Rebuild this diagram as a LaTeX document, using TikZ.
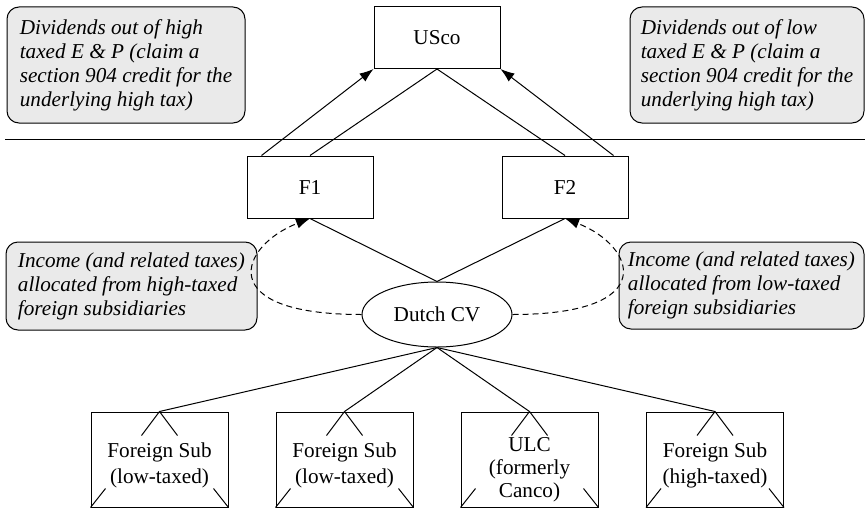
\documentclass[tikz,border=0pt]{standalone}
\usepackage{fontspec}
\setmainfont{Liberation Serif}
\usepackage{xcolor}
\definecolor{notefill}{HTML}{EAEAEA}
\usetikzlibrary{arrows.meta,shapes.geometric}
\tikzset{
  entity/.style  = {draw,line width=0.5pt,minimum width=63pt,minimum height=31pt,
                     inner sep=0pt},
  note/.style    = {draw,line width=0.5pt,rounded corners=6pt,fill=notefill,
                     align=left,inner sep=0pt,
                     font=\itshape\fontsize{10.6}{12}\selectfont},
  subsid/.style  = {draw,line width=0.5pt,minimum width=68.5pt,minimum height=47.5pt,
                     inner sep=0pt},
  subtext/.style = {align=center,inner sep=0pt,font=\fontsize{10.6}{13}\selectfont},
  cvnode/.style  = {draw,ellipse,line width=0.5pt,minimum width=75pt,
                     minimum height=32.5pt,inner sep=0pt},
  own/.style     = {line width=0.5pt},
  divarr/.style  = {own,-{Latex[length=7pt,width=5pt]}},
  alloc/.style   = {own,dash pattern=on 3pt off 2pt,-{Latex[length=7pt,width=5pt]}},
}

\begin{document}
\begin{tikzpicture}[x=0.5pt,y=-0.5pt,font=\fontsize{10.6}{12}\selectfont]
  \useasboundingbox (0,0) rectangle (865,508);
  % entities
  \node[entity] (usco) at (437,37.5) {USco};
  \node[entity] (f1) at (310,187) {F1};
  \node[entity] (f2) at (565,187) {F2};
  \node[cvnode] (cv) at (437,314.5) {Dutch CV};
  \node[subsid] (s1) at (159.5,459.5) {};
  \node[subsid] (s2) at (344.5,459.5) {};
  \node[subsid] (s3) at (529.5,459.5) {};
  \node[subsid] (s4) at (715,459.5) {};
  \node[subtext] (t1) at (159.5,465) {Foreign Sub\\(low-taxed)};
  \node[subtext] (t2) at (344.5,465) {Foreign Sub\\(low-taxed)};
  \node[subtext,font=\fontsize{10.6}{11.5}\selectfont] (t3) at (529.5,470)
       {ULC\\(formerly\\Canco)};
  \node[subtext] (t4) at (715,465) {Foreign Sub\\(high-taxed)};
  % notes
  \node[note,minimum width=119pt,minimum height=58pt] (divhigh) at (126,65)
       {Dividends out of high\\taxed E \& P (claim a\\section 904 credit for the\\underlying high tax)};
  \node[note,minimum width=117pt,minimum height=58pt] (divlow) at (747,65)
       {Dividends out of low\\taxed E \& P (claim a\\section 904 credit for the\\underlying high tax)};
  \node[note,minimum width=125.5pt,minimum height=44pt] (inchigh) at (131.5,286)
       {Income (and related taxes)\\allocated from high-taxed\\foreign subsidiaries};
  \node[note,minimum width=122.5pt,minimum height=43.5pt] (inclow) at (741.5,285.5)
       {Income (and related taxes)\\allocated from low-taxed\\foreign subsidiaries};
  % border line
  \coordinate (bl) at (5,139);
  \coordinate (br) at (865,139);
  \draw[own] (bl) -- (br);
  % ownership
  \draw[own] (f1.north) -- (usco.south);
  \draw[own] (f2.north) -- (usco.south);
  \draw[own] (f1.south) -- (cv.north);
  \draw[own] (f2.south) -- (cv.north);
  \foreach \n in {s1,s2,s3,s4}{
    \draw[own] (cv.south) -- (\n.north);
    \draw[own] (\n.north) -- +(-18,24);
    \draw[own] (\n.north) -- +(18,24);
    \draw[own] (\n.south west) -- +(15,-19);
    \draw[own] (\n.south east) -- +(-15,-19);
  }
  % dividends
  \draw[divarr] ([xshift=7.5pt]f1.north west) -- (usco.south west);
  \draw[divarr] ([xshift=-7.5pt]f2.north east) -- (usco.south east);
  % allocations
  \draw[alloc] (cv.west) .. controls +(-150,0) and +(-70,27) .. (f1.south);
  \draw[alloc] (cv.east) .. controls +(150,0) and +(70,27) .. (f2.south);
\end{tikzpicture}
\end{document}
